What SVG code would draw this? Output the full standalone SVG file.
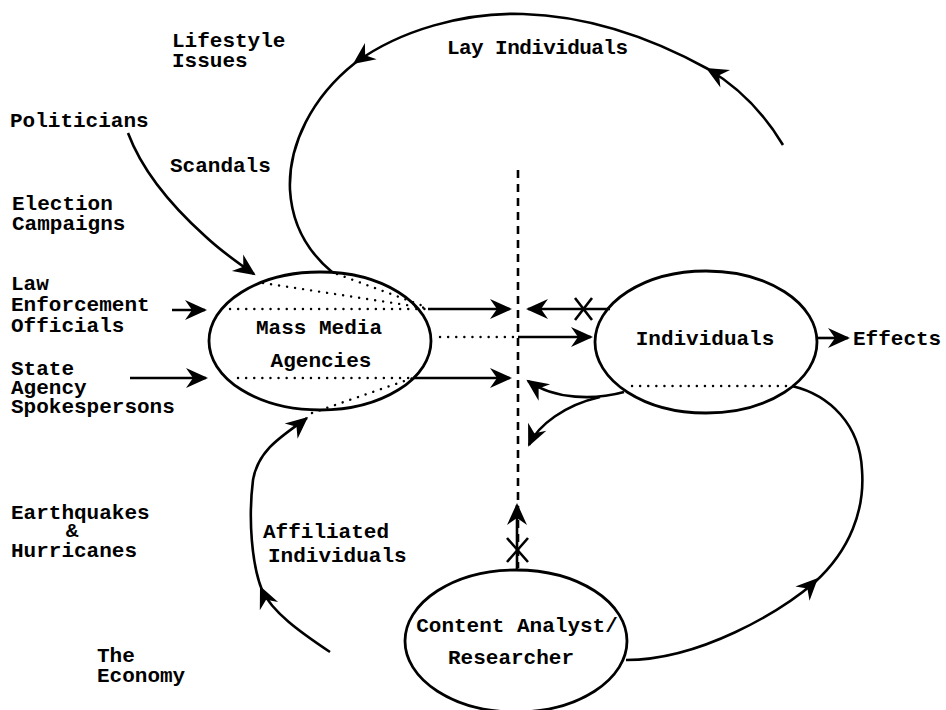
<svg xmlns="http://www.w3.org/2000/svg" width="946" height="710" viewBox="0 0 946 710">
  <style>
    text { font-family: "Liberation Mono", "Courier New", monospace; font-weight: bold; font-size: 21px; fill: #000; }
    .mid { text-anchor: middle; }
    .node { fill: none; stroke: #000; stroke-width: 2.8; }
    .line { fill: none; stroke: #000; stroke-width: 2.6; }
    .arrow { marker-end: url(#ah); }
    .dots { fill: none; stroke: #000; stroke-width: 2.4; stroke-linecap: round; stroke-dasharray: 0.1 8; }
    .dash { fill: none; stroke: #000; stroke-width: 2.6; stroke-dasharray: 8 6; }
    .head { fill: #000; }
  </style>
  <defs>
    <!-- arrowhead with its tip at the origin, pointing along +x -->
    <path id="head" class="head" d="M0,0 L-22,-10 L-15,0 L-22,10 Z"/>
    <marker id="ah" viewBox="-23 -11 26 22" refX="-2" refY="0" markerWidth="26" markerHeight="22" markerUnits="userSpaceOnUse" orient="auto">
      <path d="M0,0 L-22,-10 L-15,0 L-22,10 Z" fill="#000"/>
    </marker>
  </defs>
  <rect width="946" height="710" fill="#fff"/>

  <!-- outside sources -->
  <g id="lifestyle-issues"><text x="172" y="47">Lifestyle</text><text x="172" y="67">Issues</text></g>
  <g id="lay-individuals"><text x="447" y="54" textLength="181" lengthAdjust="spacing">Lay Individuals</text></g>
  <g id="politicians"><text x="10" y="127">Politicians</text></g>
  <g id="scandals"><text x="170" y="172">Scandals</text></g>
  <g id="election-campaigns"><text x="12" y="210">Election</text><text x="12" y="230">Campaigns</text></g>
  <g id="law-enforcement"><text x="11" y="290">Law</text><text x="11" y="311">Enforcement</text><text x="11" y="332">Officials</text></g>
  <g id="state-agency"><text x="11" y="375">State</text><text x="11" y="394">Agency</text><text x="11" y="413">Spokespersons</text></g>
  <g id="disasters"><text x="11" y="519">Earthquakes</text><text x="72" y="537" class="mid">&amp;</text><text x="11" y="557">Hurricanes</text></g>
  <g id="affiliated-individuals"><text x="263" y="538">Affiliated</text><text x="268" y="562">Individuals</text></g>
  <g id="economy"><text x="97" y="662">The</text><text x="97" y="682">Economy</text></g>
  <g id="effects"><text x="853" y="345">Effects</text></g>

  <!-- main nodes -->
  <g id="mass-media">
    <ellipse class="node" cx="320" cy="341" rx="111" ry="69"/>
    <text x="319" y="334" class="mid">Mass Media</text>
    <text x="321" y="367" class="mid">Agencies</text>
  </g>
  <g id="individuals">
    <ellipse class="node" cx="706" cy="342" rx="111" ry="71"/>
    <text x="705" y="345" class="mid">Individuals</text>
  </g>
  <g id="content-analyst">
    <ellipse class="node" cx="516" cy="641" rx="111" ry="71"/>
    <text x="517" y="632" class="mid">Content Analyst/</text>
    <text x="511" y="664" class="mid">Researcher</text>
  </g>

  <g id="connectors">
    <!-- boundary between media content and audience -->
    <path class="dash" d="M518,170 L518,568"/>

    <!-- lay individuals loop -->
    <path class="line" d="M783,145 C765,115 740,88 708,69 C650,37 590,16 523,14 C465,12 400,30 355,63 C312,97 288,145 290,190 C292,225 308,252 332,272"/>
    <use href="#head" transform="translate(706,68) rotate(-151)"/>
    <use href="#head" transform="translate(353,64) rotate(144)"/>

    <!-- politicians -->
    <path class="line arrow" d="M128,133 C140,165 165,200 205,236 C222,252 238,263 254,274"/>

    <!-- law enforcement and state agencies -->
    <path class="line arrow" d="M172,310 L205,310"/>
    <path class="line arrow" d="M130,378 L206,378"/>

    <!-- affiliated individuals loop -->
    <path class="line" d="M330,652 C300,632 272,612 262,590 C252,565 248,520 253,480 C258,450 282,436 307,418"/>
    <use href="#head" transform="translate(260,586) rotate(-114)"/>
    <use href="#head" transform="translate(308,417) rotate(-40)"/>

    <!-- dotted paths through the media agencies -->
    <path class="dots" d="M230,309 L426,309"/>
    <path class="dots" d="M263,283 L426,308"/>
    <path class="dots" d="M337,274 L426,307"/>
    <path class="dots" d="M238,378 L413,378"/>
    <path class="dots" d="M312,413 L413,378"/>

    <!-- media output to the boundary -->
    <path class="line arrow" d="M428,309 L510,309"/>
    <path class="line arrow" d="M413,378 L510,378"/>
    <path class="dots" d="M440,337 L516,337"/>
    <path class="line arrow" d="M518,337 L591,337"/>

    <!-- blocked feedback from individuals -->
    <path class="line arrow" d="M610,309 L528,309"/>
    <path class="line" d="M575,298 L592,320 M592,298 L575,320"/>

    <!-- individuals back to the boundary -->
    <path class="line arrow" d="M624,392 C595,400 555,400 528,381"/>
    <path class="line arrow" d="M600,397 C565,405 538,425 529,445"/>

    <!-- effects -->
    <path class="line arrow" d="M817,338 L848,338"/>

    <!-- individuals and content analyst loop -->
    <path class="dots" d="M632,386 L790,386"/>
    <path class="line" d="M792,386 C830,395 860,425 862,470 C865,510 850,550 815,582 C780,612 700,660 626,660"/>
    <use href="#head" transform="translate(818,578) rotate(-45)"/>

    <!-- content analyst to the boundary, blocked -->
    <path class="line arrow" d="M517,570 L517,505"/>
    <path class="line" d="M507,538 L528,562 M528,538 L507,562"/>
  </g>
</svg>
